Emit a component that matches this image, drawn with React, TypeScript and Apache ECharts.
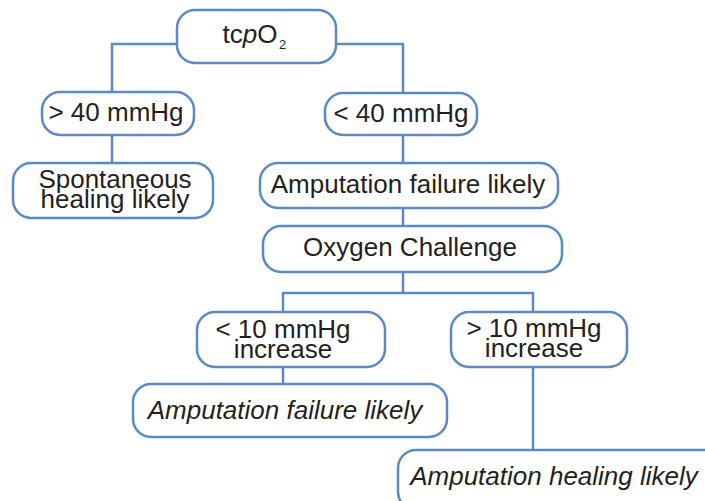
import React, { useEffect, useRef } from "react";
import * as echarts from "echarts";

// ---- content ----
const nodeLabels: string[] = [
  "tcpO2",
  "> 40 mmHg",
  "< 40 mmHg",
  "Spontaneous\nhealing likely",
  "Amputation failure likely",
  "Oxygen Challenge",
  "< 10 mmHg\nincrease",
  "> 10 mmHg\nincrease",
  "Amputation failure likely",
  "Amputation healing likely",
];
const nodeItalic: boolean[] = [false, false, false, false, false, false, false, false, true, true];

// ---- layout (box: x, y, w, h ; text centre: tx, ty) ----
const boxX = [177, 42, 325, 13, 260, 263, 197, 451, 133, 398];
const boxY = [10, 92, 93, 163, 163, 226, 312, 312, 384, 450];
const boxW = [159, 152, 152, 200, 298, 299, 188, 176, 314, 330];
const boxH = [53, 43, 42, 55, 45, 46, 55, 55, 53, 60];
const textX = [250, 116, 401, 115, 408, 410, 283, 534, 285, 554];
const textY = [34, 112, 113, 179, 184, 247, 329, 328, 410, 476];

const connectors: number[][][] = [
  [[177, 44], [112, 44], [112, 92]],
  [[336, 44], [403, 44], [403, 93]],
  [[112, 135], [112, 163]],
  [[403, 135], [403, 163]],
  [[403, 208], [403, 226]],
  [[403, 272], [403, 293]],
  [[283, 312], [283, 293], [533, 293], [533, 312]],
  [[283, 367], [283, 384]],
  [[533, 367], [533, 450]],
];

const BLUE = "#5b89c6";
const TEXT = "#231f20";
const FONT = "'Liberation Sans', Arial, sans-serif";
const FS = 26;
const LINE_GAP = 20;

export default function App() {
  const ref = useRef<HTMLDivElement>(null);
  useEffect(() => {
    document.body.style.margin = "0";
    const chart = echarts.init(ref.current!, undefined, { renderer: "svg" });
    const elements: any[] = [];
    connectors.forEach((pts) => {
      elements.push({
        type: "polyline",
        shape: { points: pts },
        style: { stroke: BLUE, lineWidth: 2.5, fill: "none" },
        z: 1,
      });
    });
    nodeLabels.forEach((label, i) => {
      elements.push({
        type: "rect",
        shape: { x: boxX[i], y: boxY[i], width: boxW[i], height: boxH[i], r: 18 },
        style: { fill: "#ffffff", stroke: BLUE, lineWidth: 2.5 },
        z: 2,
      });
      if (i === 0) {
        elements.push({
          type: "text",
          x: textX[i],
          y: textY[i],
          z: 3,
          style: {
            text: "{n|tc}{i|p}{n|O}",
            align: "center",
            verticalAlign: "middle",
            rich: {
              n: { fontSize: FS, fontFamily: FONT, fill: TEXT },
              i: { fontSize: FS, fontFamily: FONT, fontStyle: "italic", fill: TEXT },
            },
          },
        });
        elements.push({
          type: "text",
          x: textX[i] + 29,
          y: 44,
          z: 3,
          style: {
            text: "2",
            align: "left",
            verticalAlign: "middle",
            fontSize: 13,
            fontFamily: FONT,
            fill: TEXT,
          },
        });
      } else {
        const lines = label.split("\n");
        lines.forEach((ln, k) => {
          elements.push({
            type: "text",
            x: textX[i],
            y: textY[i] + k * LINE_GAP,
            z: 3,
            style: {
              text: ln,
              align: "center",
              verticalAlign: "middle",
              fontSize: FS,
              lineHeight: 20,
              fontFamily: FONT,
              fontStyle: nodeItalic[i] ? "italic" : "normal",
              fill: TEXT,
            },
          });
        });
      }
    });
    chart.setOption({
      animation: false,
      backgroundColor: "#ffffff",
      graphic: { elements },
    });
    return () => chart.dispose();
  }, []);
  return <div ref={ref} style={{ width: 705, height: 501 }} />;
}
